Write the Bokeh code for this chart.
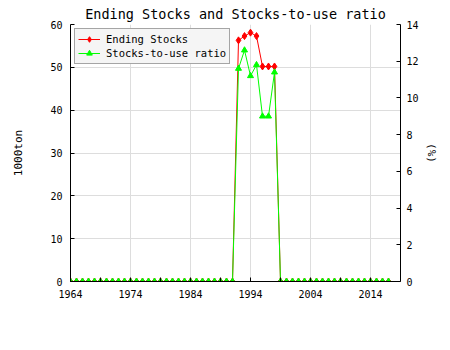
from bokeh.plotting import figure
from bokeh.models import Range1d, LinearAxis, FixedTicker, Legend, LegendItem
from bokeh.embed import file_html
from bokeh.resources import INLINE

years = list(range(1964, 2018))
ending_stocks = [0]*28 + [56.3, 57.3, 58.1, 57.3, 50.2, 50.2, 50.2] + [0]*19
stocks_to_use = [0]*28 + [11.6, 12.6, 11.2, 11.8, 9.0, 9.0, 11.4] + [0]*19
x_ticks = [1964, 1974, 1984, 1994, 2004, 2014]
x_minor = [1969, 1979, 1989, 1999, 2009]
left_ticks = [0, 10, 20, 30, 40, 50, 60]
right_ticks = [0, 2, 4, 6, 8, 10, 12, 14]

FONT = "DejaVu Sans Mono"

p = figure(width=450, height=350, output_backend="svg", toolbar_location=None,
           x_range=Range1d(1964, 2019), y_range=Range1d(0, 60),
           min_border_left=70, min_border_right=50, min_border_top=24, min_border_bottom=69)
p.extra_y_ranges = {"ratio": Range1d(0, 14)}

p.title.text = "Ending Stocks and Stocks-to-use ratio"
p.title.align = "center"
p.title.text_font = FONT
p.title.text_font_size = "13.5px"
p.title.text_font_style = "normal"
p.title.text_color = "black"
p.title.offset = 0
p.title.standoff = 6

p.outline_line_color = None
p.background_fill_color = "white"
p.border_fill_color = "white"

p.xgrid.ticker = FixedTicker(ticks=x_ticks)
p.ygrid.ticker = FixedTicker(ticks=left_ticks)
p.grid.grid_line_color = "#dddddd"

xa = p.xaxis[0]
xa.ticker = FixedTicker(ticks=x_ticks, minor_ticks=x_minor)
ya = p.yaxis[0]
ya.ticker = FixedTicker(ticks=left_ticks)
ya.axis_label = "1000ton"

ra = LinearAxis(y_range_name="ratio", ticker=FixedTicker(ticks=right_ticks), axis_label="(%)")
p.add_layout(ra, "right")

for ax in [xa, ya, ra]:
    ax.major_tick_in = 4
    ax.major_tick_out = 0
    ax.minor_tick_in = 4
    ax.minor_tick_out = 0
    ax.axis_line_color = "black"
    ax.major_tick_line_color = "black"
    ax.minor_tick_line_color = "black"
    ax.major_label_text_font = FONT
    ax.major_label_text_font_size = "10px"
    ax.major_label_text_color = "black"
    ax.axis_label_text_font = FONT
    ax.axis_label_text_font_size = "11px"
    ax.axis_label_text_font_style = "normal"
    ax.axis_label_text_color = "black"
    ax.major_label_standoff = 8
ya.minor_tick_line_color = None
ra.minor_tick_line_color = None
ra.major_label_standoff = 6
ya.axis_label_standoff = 22
ra.axis_label_standoff = 3

l1 = p.line(years, ending_stocks, line_color="#ff0000", line_width=1)
s1 = p.scatter(years, ending_stocks, marker="diamond", size=7, fill_color="#ff0000", line_color="#ff0000")
l2 = p.line(years, stocks_to_use, line_color="#00ff00", line_width=1, y_range_name="ratio")
s2 = p.scatter(years, stocks_to_use, marker="triangle", size=6, fill_color="#00ff00", line_color="#00ff00", y_range_name="ratio")

legend = Legend(items=[LegendItem(label="Ending Stocks", renderers=[l1, s1]),
                       LegendItem(label="Stocks-to-use ratio", renderers=[l2, s2])],
                location="top_left")
legend.label_text_font = FONT
legend.label_text_font_size = "10.5px"
legend.label_text_color = "black"
legend.label_height = 14
legend.glyph_height = 14
legend.glyph_width = 22
legend.spacing = 0
legend.padding = 3
legend.margin = 4
legend.border_line_color = "#555555"
legend.border_line_width = 1
legend.background_fill_color = "#f5f5f5"
legend.background_fill_alpha = 1
legend.label_standoff = 6
p.add_layout(legend)

open("out.html", "w").write(file_html(p, INLINE))
